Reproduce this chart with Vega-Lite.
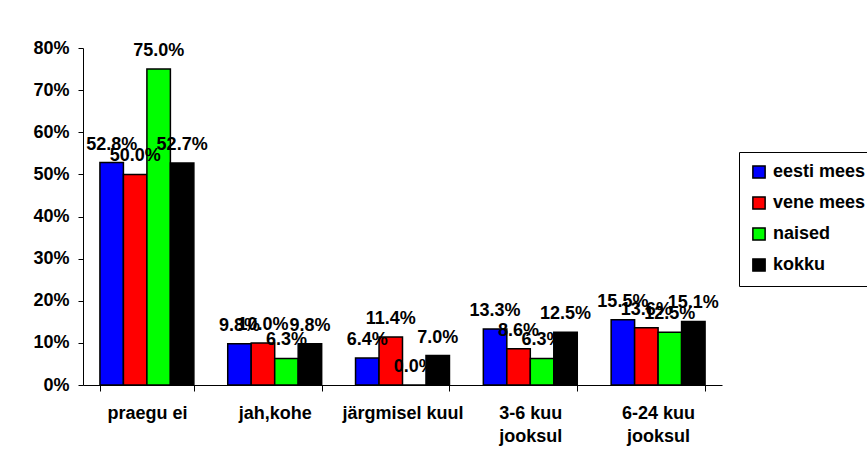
{
  "$schema": "https://vega.github.io/schema/vega-lite/v6.json",
  "width": 639,
  "height": 337,
  "autosize": {"type": "none"},
  "padding": {"left": 83, "top": 48, "right": 145, "bottom": 76},
  "background": "white",
  "config": {
    "view": {"stroke": null},
    "font": "Liberation Sans"
  },
  "data": {
    "values": [
      {"kat": "praegu ei", "grupp": "eesti mees", "v": 0.528},
      {"kat": "praegu ei", "grupp": "vene mees", "v": 0.500},
      {"kat": "praegu ei", "grupp": "naised", "v": 0.750},
      {"kat": "praegu ei", "grupp": "kokku", "v": 0.527},
      {"kat": "jah,kohe", "grupp": "eesti mees", "v": 0.098},
      {"kat": "jah,kohe", "grupp": "vene mees", "v": 0.100},
      {"kat": "jah,kohe", "grupp": "naised", "v": 0.063},
      {"kat": "jah,kohe", "grupp": "kokku", "v": 0.098},
      {"kat": "järgmisel kuul", "grupp": "eesti mees", "v": 0.064},
      {"kat": "järgmisel kuul", "grupp": "vene mees", "v": 0.114},
      {"kat": "järgmisel kuul", "grupp": "naised", "v": 0.000},
      {"kat": "järgmisel kuul", "grupp": "kokku", "v": 0.070},
      {"kat": "3-6 kuu jooksul", "grupp": "eesti mees", "v": 0.133},
      {"kat": "3-6 kuu jooksul", "grupp": "vene mees", "v": 0.086},
      {"kat": "3-6 kuu jooksul", "grupp": "naised", "v": 0.063},
      {"kat": "3-6 kuu jooksul", "grupp": "kokku", "v": 0.125},
      {"kat": "6-24 kuu jooksul", "grupp": "eesti mees", "v": 0.155},
      {"kat": "6-24 kuu jooksul", "grupp": "vene mees", "v": 0.136},
      {"kat": "6-24 kuu jooksul", "grupp": "naised", "v": 0.125},
      {"kat": "6-24 kuu jooksul", "grupp": "kokku", "v": 0.151}
    ]
  },
  "encoding": {
    "x": {
      "field": "kat",
      "type": "nominal",
      "sort": null,
      "scale": {"paddingInner": 0.265, "paddingOuter": 0.1325},
      "axis": {
        "title": null,
        "labelAngle": 0,
        "tickBand": "extent",
        "tickSize": 6,
        "tickColor": "black",
        "domainColor": "black",
        "labelPadding": 13,
        "labelLineHeight": 23,
        "labelFontSize": 18,
        "labelFontWeight": "bold",
        "labelFont": "Liberation Sans",
        "labelColor": "black",
        "labelExpr": "datum.label == '3-6 kuu jooksul' ? ['3-6 kuu', 'jooksul'] : datum.label == '6-24 kuu jooksul' ? ['6-24 kuu', 'jooksul'] : datum.label"
      }
    },
    "xOffset": {
      "field": "grupp",
      "type": "nominal",
      "sort": ["eesti mees", "vene mees", "naised", "kokku"],
      "scale": {"paddingInner": 0, "paddingOuter": 0}
    },
    "y": {
      "field": "v",
      "type": "quantitative",
      "scale": {"domain": [0, 0.8], "nice": false},
      "axis": {
        "title": null,
        "grid": false,
        "values": [0, 0.1, 0.2, 0.3, 0.4, 0.5, 0.6, 0.7, 0.8],
        "format": ".0%",
        "tickSize": 5,
        "tickColor": "black",
        "domainColor": "black",
        "labelPadding": 9,
        "labelFontSize": 18,
        "labelFontWeight": "bold",
        "labelFont": "Liberation Sans",
        "labelColor": "black"
      }
    }
  },
  "layer": [
    {
      "mark": {"type": "bar", "stroke": "black", "strokeWidth": 1.5},
      "encoding": {
        "color": {
          "field": "grupp",
          "type": "nominal",
          "scale": {
            "domain": ["eesti mees", "vene mees", "naised", "kokku"],
            "range": ["#0000FF", "#FF0000", "#00FF00", "#000000"]
          },
          "legend": {
            "title": null,
            "orient": "none",
            "legendX": 656,
            "legendY": 104,
            "strokeColor": "black",
            "fillColor": "white",
            "padding": 11,
            "symbolType": "square",
            "symbolSize": 150,
            "symbolStrokeColor": "black",
            "symbolStrokeWidth": 1.5,
            "symbolOpacity": 1,
            "labelFontSize": 18,
            "labelFontWeight": "bold",
            "labelFont": "Liberation Sans",
            "labelColor": "black",
            "labelOffset": 5,
            "rowPadding": 11
          }
        }
      }
    },
    {
      "mark": {
        "type": "text",
        "baseline": "alphabetic",
        "dy": -13,
        "fontSize": 18,
        "fontWeight": "bold",
        "font": "Liberation Sans",
        "color": "black"
      },
      "encoding": {
        "text": {"field": "v", "type": "quantitative", "format": ".1%"}
      }
    }
  ]
}
